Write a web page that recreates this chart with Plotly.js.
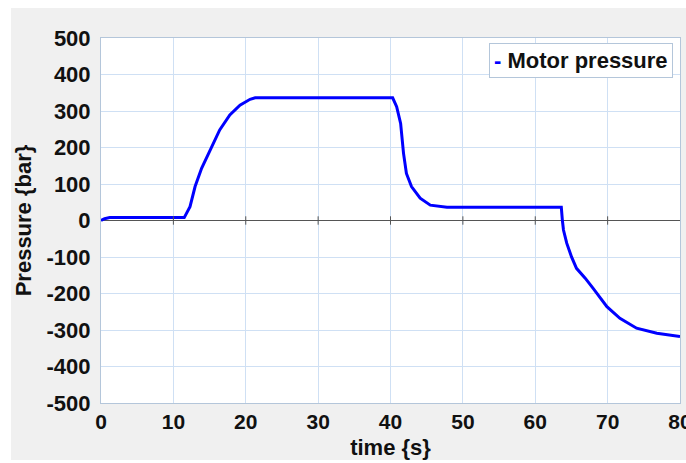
<!DOCTYPE html>
<html>
<head>
<meta charset="utf-8">
<script src="https://cdn.plot.ly/plotly-3.0.1.min.js"></script>
<style>
html, body { margin: 0; padding: 0; background: #ffffff; width: 686px; height: 463px; overflow: hidden; }
#chart { position: absolute; left: 11px; top: 8px; width: 675px; height: 452px; }
</style>
</head>
<body>
<div id="chart"></div>
<script>
// Data
const seriesName = "Motor pressure";
const time = [0, 0.5, 1.2, 11.5, 12.3, 13.0, 13.9, 15.1, 16.4, 17.8, 19.2, 20.6, 21.3,
              40.3, 40.85, 41.4, 41.8, 42.2, 42.9, 44.1, 45.5, 47.8,
              63.6, 63.75, 63.9, 64.35, 65.0, 65.7, 66.9, 68.0, 69.9, 71.7, 74.0, 76.8, 80];
const pressure = [0, 5, 8, 8, 38, 93, 143, 193, 248, 289, 316, 332, 336,
                  336, 312, 266, 184, 129, 93, 61, 42, 36,
                  36, 0, -26, -62, -99, -131, -158, -186, -236, -268, -295, -309, -318];
const xTicks = [0, 10, 20, 30, 40, 50, 60, 70, 80];
const yTicks = [-500, -400, -300, -200, -100, 0, 100, 200, 300, 400, 500];
const xTitle = "time {s}";
const yTitle = "Pressure {bar}";

const font = { family: "Liberation Sans, Arial, sans-serif", size: 22, color: "#111111", weight: "bold" };
const tickFontX = { family: font.family, size: 21, color: font.color, weight: "bold" };
const gridColor = "#cfe0f4";
const borderColor = "#b4c6da";

const traces = [
  {
    x: time, y: pressure, type: "scatter", mode: "lines",
    name: seriesName, line: { color: "#0000ff", width: 3, shape: "linear" },
    showlegend: false, hoverinfo: "x+y"
  },
  {
    // small tick marks on the zero line at each x grid position
    x: xTicks.slice(1, -1), y: xTicks.slice(1, -1).map(() => 0),
    type: "scatter", mode: "markers",
    marker: { symbol: "line-ns-open", size: 6, color: "#555555", line: { width: 1, color: "#555555" } },
    showlegend: false, hoverinfo: "skip"
  }
];

const layout = {
  width: 675, height: 452,
  margin: { l: 90, r: 6, t: 30, b: 57 },
  paper_bgcolor: "#f0f0f0",
  plot_bgcolor: "#ffffff",
  font: font,
  showlegend: false,
  xaxis: {
    range: [0, 80], tickvals: xTicks, ticktext: xTicks.map(String),
    showgrid: true, gridcolor: gridColor, gridwidth: 1,
    zeroline: false, showline: true, linecolor: borderColor, linewidth: 1, mirror: true,
    ticks: "", tickfont: tickFontX, ticklabelstandoff: 0, ticklabeloverflow: "allow",
    title: { text: xTitle, font: font, standoff: 10 }
  },
  yaxis: {
    range: [-500, 500], tickvals: yTicks, ticktext: yTicks.map(String),
    showgrid: true, gridcolor: gridColor, gridwidth: 1,
    zeroline: true, zerolinecolor: "#555555", zerolinewidth: 1.5,
    showline: true, linecolor: borderColor, linewidth: 1, mirror: true,
    ticks: "", tickfont: font, ticklabelstandoff: 5,
    title: { text: yTitle, font: font, standoff: 8 }
  },
  annotations: [
    {
      xref: "paper", yref: "paper", x: 0.988, y: 0.986,
      xanchor: "right", yanchor: "top",
      text: "<span style='color:#0000ff'>-</span> " + seriesName,
      showarrow: false, font: font,
      bgcolor: "#ffffff", bordercolor: borderColor, borderwidth: 1, borderpad: 4
    }
  ]
};

Plotly.newPlot("chart", traces, layout, { displayModeBar: false, staticPlot: true });
</script>
</body>
</html>
